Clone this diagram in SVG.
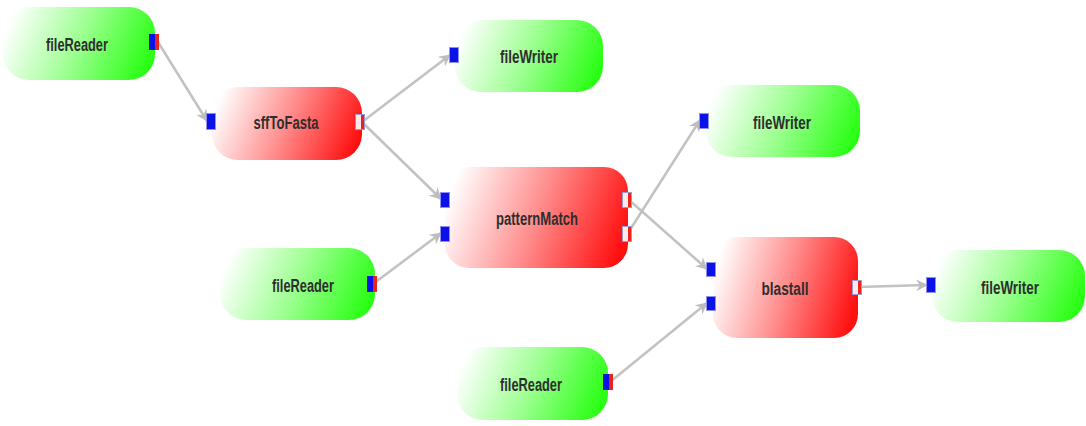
<svg xmlns="http://www.w3.org/2000/svg" width="1086" height="426" viewBox="0 0 1086 426">
<defs>
<linearGradient id="gG" x1="0" y1="0.4" x2="1" y2="0.6"><stop offset="0" stop-color="#ffffff"/><stop offset="0.5" stop-color="#9cff90"/><stop offset="1" stop-color="#28ff12"/></linearGradient>
<linearGradient id="gR" x1="0" y1="0.4" x2="1" y2="0.6"><stop offset="0" stop-color="#ffffff"/><stop offset="0.5" stop-color="#ff8c8c"/><stop offset="1" stop-color="#ff1010"/></linearGradient>
<marker id="ah" viewBox="0 0 12 12" refX="11" refY="6" markerWidth="12" markerHeight="12" markerUnits="userSpaceOnUse" orient="auto">
<path d="M0,0 L12,6 L0,12 L4,6 z" fill="#bdbdbd"/>
</marker>
<style>
.g{fill:url(#gG)}
.r{fill:url(#gR)}
.t{font-family:"Liberation Sans",Arial,sans-serif;font-size:18px;fill:#2e2e2e;text-anchor:middle;font-weight:bold}
.in{fill:#0b12e8;stroke:#8f8ff0;stroke-width:1}
.ob{fill:#0b12e8}
.or{fill:#e8241c}
.ow{fill:#fbe9ee;stroke:#9a9ad0;stroke-width:1}
.c{fill:none;stroke:#c2c2c2;stroke-width:2.5;marker-end:url(#ah)}
</style>
</defs>
<g id="connectors">
<line class="c" x1="158" y1="42" x2="207" y2="121"/>
<line class="c" x1="362" y1="122" x2="450" y2="55"/>
<line class="c" x1="362" y1="122" x2="441" y2="199"/>
<line class="c" x1="373" y1="284" x2="441" y2="233"/>
<line class="c" x1="628" y1="199" x2="707" y2="269"/>
<line class="c" x1="628" y1="233" x2="700" y2="120"/>
<line class="c" x1="610" y1="382" x2="707" y2="303"/>
<line class="c" x1="858" y1="287" x2="927" y2="285"/>
</g>
<g id="fileReader1">
<rect class="g" x="3" y="7" width="152" height="73" rx="26"/>
<text class="t" x="77" y="51" textLength="62" lengthAdjust="spacingAndGlyphs">fileReader</text>
<rect class="ob" x="149" y="34" width="6" height="16"/><rect class="or" x="155" y="34" width="4" height="16"/>
</g>
<g id="sffToFasta">
<rect class="r" x="212" y="87" width="150" height="73" rx="26"/>
<text class="t" x="286" y="129" textLength="65" lengthAdjust="spacingAndGlyphs">sffToFasta</text>
<rect class="in" x="206.5" y="113.5" width="9" height="16"/>
<rect class="ow" x="355.5" y="114.5" width="9" height="15"/><rect class="or" x="361" y="115" width="3" height="14"/>
</g>
<g id="fileWriter1">
<rect class="g" x="455" y="20" width="148" height="72" rx="26"/>
<text class="t" x="529" y="63" textLength="58" lengthAdjust="spacingAndGlyphs">fileWriter</text>
<rect class="in" x="449.5" y="47.5" width="9" height="15"/>
</g>
<g id="patternMatch">
<rect class="r" x="445" y="167" width="183" height="101" rx="24"/>
<text class="t" x="537" y="225" textLength="82" lengthAdjust="spacingAndGlyphs">patternMatch</text>
<rect class="in" x="440.5" y="192.5" width="9" height="15"/>
<rect class="in" x="440.5" y="226.5" width="9" height="15"/>
<rect class="ow" x="622.5" y="192.5" width="9" height="15"/><rect class="or" x="628" y="193" width="3" height="14"/>
<rect class="ow" x="622.5" y="226.5" width="9" height="15"/><rect class="or" x="628" y="227" width="3" height="14"/>
</g>
<g id="fileReader2">
<rect class="g" x="220" y="248" width="155" height="72" rx="26"/>
<text class="t" x="303" y="292" textLength="62" lengthAdjust="spacingAndGlyphs">fileReader</text>
<rect class="ob" x="367" y="276" width="6" height="16"/><rect class="or" x="373" y="276" width="4" height="16"/>
</g>
<g id="fileWriter2">
<rect class="g" x="706" y="85" width="154" height="72" rx="26"/>
<text class="t" x="782" y="129" textLength="58" lengthAdjust="spacingAndGlyphs">fileWriter</text>
<rect class="in" x="699.5" y="113.5" width="9" height="15"/>
</g>
<g id="blastall">
<rect class="r" x="713" y="237" width="145" height="101" rx="24"/>
<text class="t" x="785" y="295" textLength="47" lengthAdjust="spacingAndGlyphs">blastall</text>
<rect class="in" x="706.5" y="262.5" width="9" height="14"/>
<rect class="in" x="706.5" y="296.5" width="9" height="14"/>
<rect class="ow" x="852.5" y="280.5" width="9" height="14"/><rect class="or" x="858" y="281" width="3" height="13"/>
</g>
<g id="fileReader3">
<rect class="g" x="457" y="347" width="151" height="73" rx="26"/>
<text class="t" x="531" y="391" textLength="62" lengthAdjust="spacingAndGlyphs">fileReader</text>
<rect class="ob" x="603" y="374" width="6" height="16"/><rect class="or" x="609" y="374" width="4" height="16"/>
</g>
<g id="fileWriter3">
<rect class="g" x="932" y="250" width="153" height="72" rx="26"/>
<text class="t" x="1010" y="294" textLength="58" lengthAdjust="spacingAndGlyphs">fileWriter</text>
<rect class="in" x="926.5" y="277.5" width="9" height="15"/>
</g>
</svg>
